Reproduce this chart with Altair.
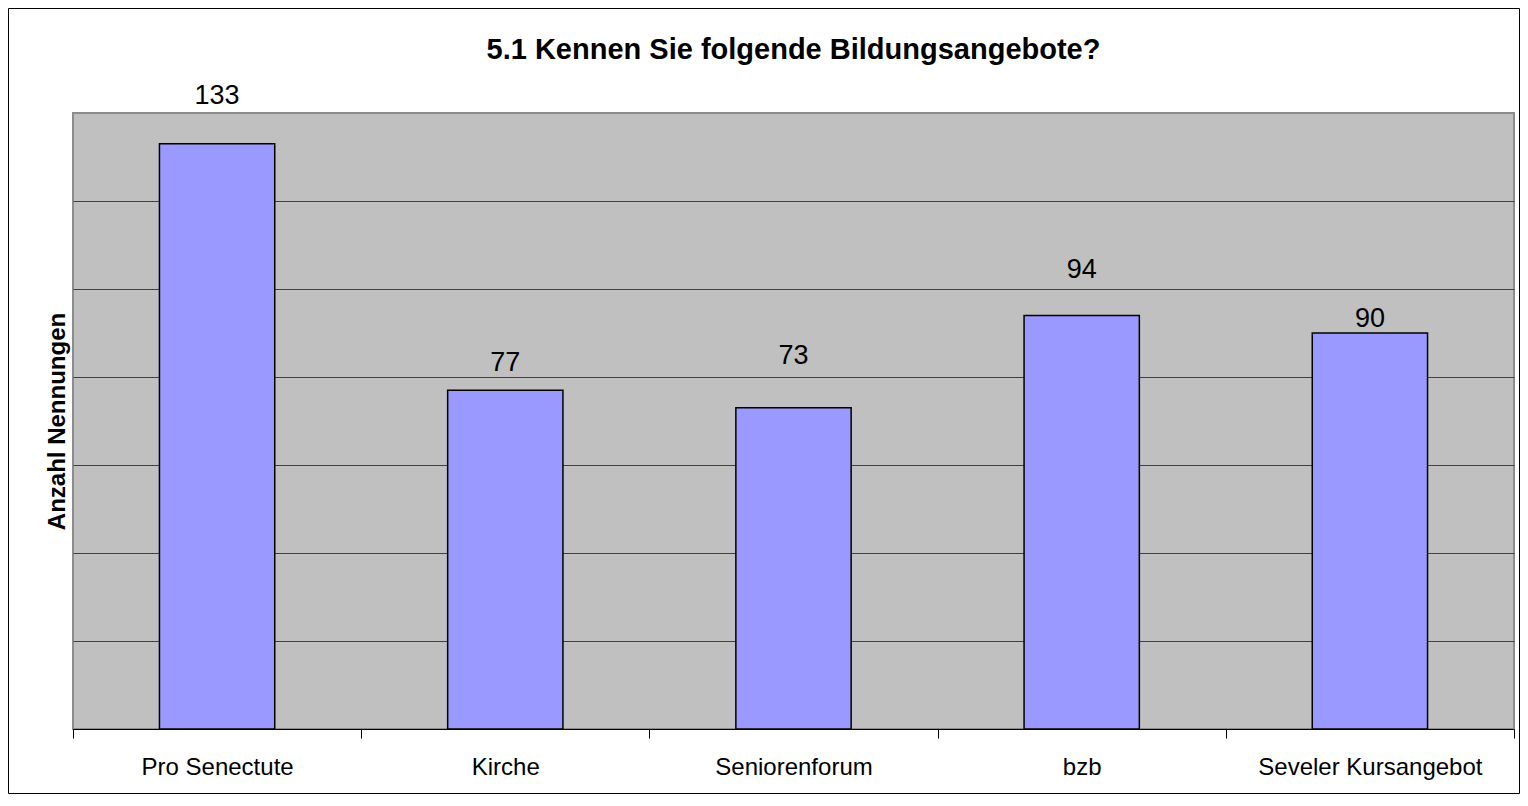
import altair as alt
import pandas as pd

# ---- data ----
categories = ["Pro Senectute", "Kirche", "Seniorenforum", "bzb", "Seveler Kursangebot"]
values = [133, 77, 73, 94, 90]
title_text = "5.1 Kennen Sie folgende Bildungsangebote?"
y_title = "Anzahl Nennungen"
grid_values = [20, 40, 60, 80, 100, 120]

# ---- layout / style ----
FONT = "Liberation Sans"
PLOT_W, PLOT_H = 1441, 616
PAD_L, PAD_T, PAD_R, PAD_B = 65, 105, 6, 65
Y_MAX = 140
# gap (px) between bar top and value label baseline, as in the original
label_gap_px = {"Pro Senectute": 40, "Kirche": 19, "Seniorenforum": 44, "bzb": 37, "Seveler Kursangebot": 6}

df = pd.DataFrame({"cat": categories, "value": values})
df["gap"] = df["cat"].map(label_gap_px)
df["label_y"] = df["value"] + df["gap"] * Y_MAX / PLOT_H

x_enc = alt.X(
    "cat:N",
    sort=categories,
    scale=alt.Scale(paddingInner=0, paddingOuter=0),
    axis=alt.Axis(
        title=None,
        labelAngle=0,
        labelFont=FONT,
        labelFontSize=24,
        labelColor="black",
        labelBaseline="alphabetic",
        labelPadding=36,
        labelLimit=600,
        tickSize=9,
        tickColor="black",
        tickBand="extent",
        domainColor="black",
        grid=False,
    ),
)

y_enc = alt.Y(
    "value:Q",
    scale=alt.Scale(domain=[0, Y_MAX], nice=False),
    axis=alt.Axis(
        values=grid_values,
        labels=False,
        ticks=False,
        domain=False,
        grid=True,
        gridColor="#404040",
        gridWidth=1,
        title=y_title,
        titleFont=FONT,
        titleFontSize=24,
        titleFontWeight="bold",
        titleColor="black",
        titleAngle=-90,
        titleAlign="center",
        titleBaseline="middle",
        titleX=-16,
        titleY=PLOT_H / 2,
    ),
)

base = alt.Chart(df)

bars = base.mark_bar(
    color="#9999FF", stroke="black", strokeWidth=1.5, width=alt.RelativeBandSize(0.4)
).encode(x=x_enc, y=y_enc)

labels = base.mark_text(font=FONT, fontSize=27, baseline="alphabetic", align="center", color="black").encode(
    x=alt.X("cat:N", sort=categories),
    y=alt.Y("label_y:Q"),
    text=alt.Text("value:Q"),
)

title = alt.Chart(alt.Data(values=[{"t": title_text}])).mark_text(
    font=FONT, fontSize=29, fontWeight="bold", baseline="alphabetic", align="center", color="black"
).encode(x=alt.value(PLOT_W / 2), y=alt.value(-54), text="t:N")

border = alt.Chart(alt.Data(values=[{"b": 1}])).mark_rect(
    fill="transparent", stroke="black", strokeWidth=1
).encode(
    x=alt.value(-PAD_L + 0.5),
    x2=alt.value(PLOT_W + PAD_R - 0.5),
    y=alt.value(-PAD_T + 0.5),
    y2=alt.value(PLOT_H + PAD_B - 0.5),
)

chart = (
    alt.layer(bars, labels, title, border)
    .properties(
        width=PLOT_W,
        height=PLOT_H,
        autosize="none",
        padding={"left": PAD_L, "top": PAD_T, "right": PAD_R, "bottom": PAD_B},
        background="white",
    )
    .configure_view(fill="#C0C0C0", stroke="#8C8C8C", strokeWidth=2)
)

chart.save("out.html", embed_options={"renderer": "svg", "actions": False})
